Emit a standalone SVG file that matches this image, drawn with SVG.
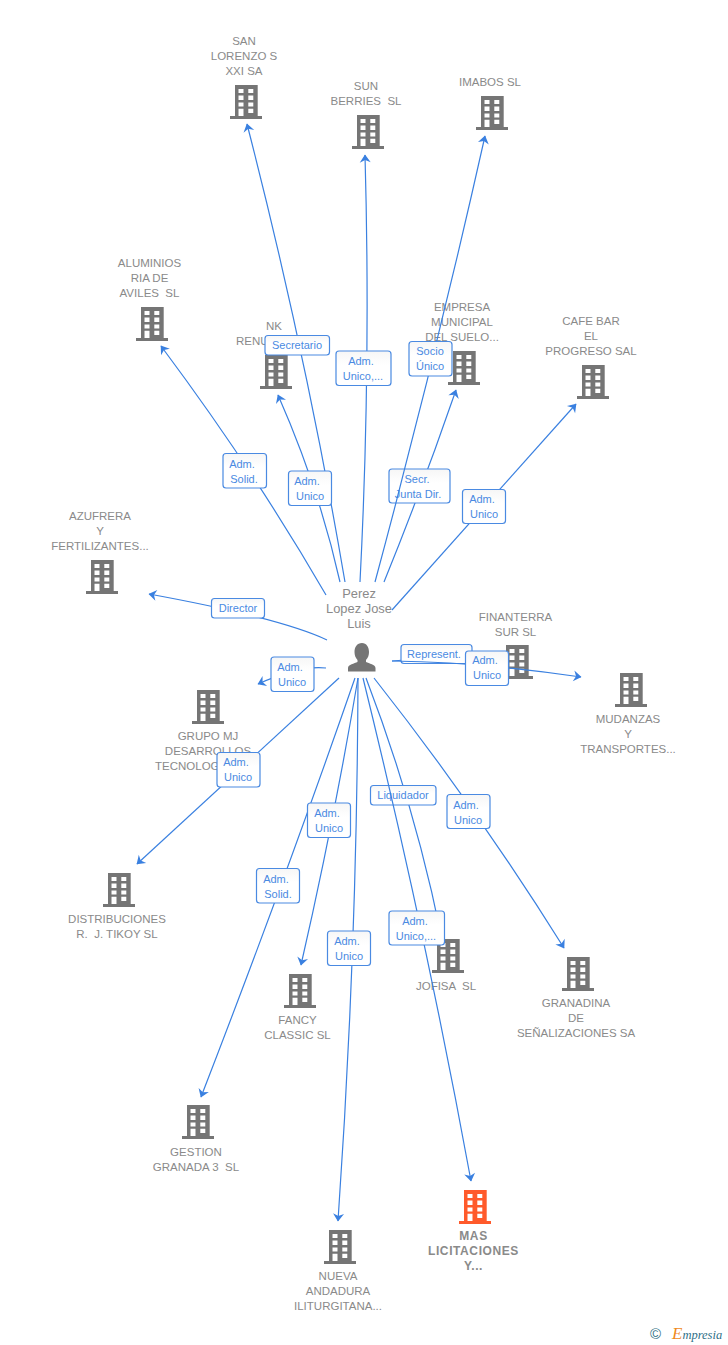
<svg xmlns="http://www.w3.org/2000/svg" width="728" height="1345" viewBox="0 0 728 1345">
<style>
text{font-family:"Liberation Sans",Arial,sans-serif;white-space:pre}
.n{font-size:11.5px;fill:#8a8a8a;text-anchor:middle}
.p{font-size:12.9px;fill:#8a8a8a;text-anchor:middle}
.m{font-size:12px;font-weight:bold;fill:#8a8a8a;text-anchor:middle;letter-spacing:.6px}
.l{fill:url(#lg);stroke:#4a8ae2;stroke-width:1.2}
.t{font-size:11px;fill:#4a8ae2;text-anchor:middle}
.c{fill:none;stroke:#3a80e0;stroke-width:1.2;marker-end:url(#ah)}
</style>
<defs>
<linearGradient id="lg" x1="0" y1="0" x2="0" y2="1"><stop offset="0" stop-color="#f6f6f6"/><stop offset=".4" stop-color="#fff"/><stop offset="1" stop-color="#fff"/></linearGradient>
<marker id="ah" markerUnits="userSpaceOnUse" markerWidth="10" markerHeight="12" viewBox="0 0 8 12" refX="7.5" refY="6" orient="auto"><path d="M0 .5L8 6L0 11.5L2.5 6z" fill="#3a80e0"/></marker>
<path id="b" fill-rule="evenodd" d="M5 0H27.700V31H32V34H0V31H5ZM8.500 4V8H13.500V4ZM18.300 4V8H23.300V4ZM8.500 10.500V15H13.500V10.500ZM18.300 10.500V15H23.300V10.500ZM8.500 17.500V21.500H13.500V17.500ZM18.300 17.500V21.500H23.300V17.500ZM8.500 23.700V31H13.500V23.700ZM18.300 23.700V28H23.300V23.700Z"/>
</defs>
<rect width="728" height="1345" fill="#fff"/>
<g id="nodes" fill="#757575">
<g id="n-san-lorenzo"><use href="#b" x="230" y="85"/><text class="n" x="244" y="45">SAN</text><text class="n" x="244" y="60">LORENZO S</text><text class="n" x="244" y="75">XXI SA</text></g>
<g id="n-sun-berries"><use href="#b" x="352" y="115"/><text class="n" x="366" y="90">SUN</text><text class="n" x="366" y="105">BERRIES  SL</text></g>
<g id="n-imabos"><use href="#b" x="476" y="96"/><text class="n" x="490" y="86">IMABOS SL</text></g>
<g id="n-aluminios"><use href="#b" x="136" y="307"/><text class="n" x="149.500" y="267">ALUMINIOS</text><text class="n" x="149.500" y="282">RIA DE</text><text class="n" x="149.500" y="297">AVILES  SL</text></g>
<g id="n-nk"><use href="#b" x="260" y="355"/><text class="n" x="274" y="330">NK</text><text class="n" x="236" y="345" style="text-anchor:start">RENU</text></g>
<g id="n-empresa"><use href="#b" x="448" y="351"/><text class="n" x="462" y="311">EMPRESA</text><text class="n" x="462" y="326">MUNICIPAL</text><text class="n" x="462" y="341">DEL SUELO...</text></g>
<g id="n-cafe-bar"><use href="#b" x="577" y="365"/><text class="n" x="591" y="325">CAFE BAR</text><text class="n" x="591" y="340">EL</text><text class="n" x="591" y="355">PROGRESO SAL</text></g>
<g id="n-azufrera"><use href="#b" x="86" y="560"/><text class="n" x="100" y="520">AZUFRERA</text><text class="n" x="100" y="535">Y</text><text class="n" x="100" y="550">FERTILIZANTES...</text></g>
<g id="n-finanterra"><use href="#b" x="501" y="645"/><text class="n" x="515.500" y="621">FINANTERRA</text><text class="n" x="515.500" y="636">SUR SL</text></g>
<g id="n-mudanzas"><use href="#b" x="615" y="673"/><text class="n" x="628" y="723">MUDANZAS</text><text class="n" x="628" y="738">Y</text><text class="n" x="628" y="753">TRANSPORTES...</text></g>
<g id="n-grupo-mj"><use href="#b" x="192" y="690"/><text class="n" x="208" y="740">GRUPO MJ</text><text class="n" x="208" y="755">DESARROLLOS</text><text class="n" x="155" y="770" style="text-anchor:start">TECNOLOG</text></g>
<g id="n-distribuciones"><use href="#b" x="103" y="873"/><text class="n" x="117" y="923">DISTRIBUCIONES</text><text class="n" x="117" y="938">R.  J. TIKOY SL</text></g>
<g id="n-fancy"><use href="#b" x="284" y="974"/><text class="n" x="297.500" y="1024">FANCY</text><text class="n" x="297.500" y="1039">CLASSIC SL</text></g>
<g id="n-jofisa"><use href="#b" x="432" y="939"/><text class="n" x="446" y="990">JOFISA  SL</text></g>
<g id="n-granadina"><use href="#b" x="562" y="957"/><text class="n" x="576" y="1007">GRANADINA</text><text class="n" x="576" y="1022">DE</text><text class="n" x="576" y="1037">SEÑALIZACIONES SA</text></g>
<g id="n-gestion"><use href="#b" x="182" y="1105"/><text class="n" x="196" y="1156">GESTION</text><text class="n" x="196" y="1171">GRANADA 3  SL</text></g>
<g id="n-nueva"><use href="#b" x="324" y="1230"/><text class="n" x="338" y="1280">NUEVA</text><text class="n" x="338" y="1295">ANDADURA</text><text class="n" x="338" y="1310">ILITURGITANA...</text></g>
<g id="n-mas"><use href="#b" x="459" y="1190" fill="#ff5a2b"/><text class="m" x="473.500" y="1240">MAS</text><text class="m" x="473.500" y="1255">LICITACIONES</text><text class="m" x="473.500" y="1270">Y...</text></g>
<g id="n-perez"><path d="M362 643c-5 0-7.500 4-7.500 9c0 3 1 6 3 8v2c-3 1.500-9.500 2.500-9.500 6v3.500h27.500v-3.500c0-3.500-6.500-4.500-9.500-6v-2c2-2 3-5 3-8c0-5-2.500-9-7-9z"/><text class="p" x="359" y="598">Perez</text><text class="p" x="359" y="613">Lopez Jose</text><text class="p" x="359" y="628">Luis</text></g>
</g>
<g id="connectors">
<path class="c" d="M384 582Q423 486 456 390"/>
<rect class="l" x="389" y="469" width="61" height="34" rx="3"/><text class="t" x="417" y="483">Secr.</text><text class="t" x="418" y="498">Junta Dir.</text>
<path class="c" d="M366 678Q415 806 441 935"/>
<rect class="l" x="370.500" y="785.500" width="65.500" height="19.500" rx="3"/><text class="t" x="403" y="799">Liquidador</text>
<path class="c" d="M345 582Q306 353 247 124"/>
<rect class="l" x="265" y="335.500" width="64.500" height="19.500" rx="3"/><text class="t" x="297" y="349">Secretario</text>
<path class="c" d="M360 582Q371 368 365 155"/>
<rect class="l" x="336" y="351" width="55" height="34.500" rx="3"/><text class="t" x="361" y="365">Adm.</text><text class="t" x="363" y="380">Unico,...</text>
<path class="c" d="M375 582Q435 359 485 136"/>
<rect class="l" x="409" y="341.500" width="43" height="34.500" rx="3"/><text class="t" x="430" y="355">Socio</text><text class="t" x="430" y="370">Único</text>
<path class="c" d="M392 610L576 404"/>
<rect class="l" x="462.500" y="489.500" width="43" height="34" rx="3"/><text class="t" x="482" y="503">Adm.</text><text class="t" x="484" y="518">Unico</text>
<path class="c" d="M340 582Q319 488 278 395"/>
<rect class="l" x="288.500" y="471" width="43" height="34.500" rx="3"/><text class="t" x="307" y="485">Adm.</text><text class="t" x="310" y="500">Unico</text>
<path class="c" d="M326 595Q255 472 161 346"/>
<rect class="l" x="223" y="453.500" width="43.500" height="34.500" rx="3"/><text class="t" x="242" y="468">Adm.</text><text class="t" x="244" y="483">Solid.</text>
<path class="c" d="M327 640Q280 618 149 594"/>
<rect class="l" x="211.500" y="598.500" width="53" height="19.500" rx="3"/><text class="t" x="238" y="612">Director</text>
<path class="c" d="M326 668Q300 665 258 684"/>
<rect class="l" x="271" y="657" width="43" height="34.500" rx="3"/><text class="t" x="290" y="671">Adm.</text><text class="t" x="292" y="686">Unico</text>
<path class="c" d="M392 661Q440 656 497 662"/>
<rect class="l" x="401" y="644.500" width="71" height="19" rx="3"/><text class="t" x="434" y="658">Represent.</text>
<path class="c" d="M392 661Q480 662 581 677"/>
<rect class="l" x="465.500" y="651" width="43" height="34.500" rx="3"/><text class="t" x="485" y="664">Adm.</text><text class="t" x="487" y="679">Unico</text>
<path class="c" d="M339 678L137 864"/>
<rect class="l" x="217" y="752.500" width="43" height="34.500" rx="3"/><text class="t" x="236" y="766">Adm.</text><text class="t" x="238" y="781">Unico</text>
<path class="c" d="M355 678Q285 880 201 1097"/>
<rect class="l" x="256.500" y="868.500" width="43" height="34.500" rx="3"/><text class="t" x="276" y="883">Adm.</text><text class="t" x="278" y="898">Solid.</text>
<path class="c" d="M358 678Q334 821 301 965"/>
<rect class="l" x="307.500" y="803" width="43" height="34.500" rx="3"/><text class="t" x="327" y="817">Adm.</text><text class="t" x="329" y="832">Unico</text>
<path class="c" d="M358 678Q357 950 338 1221"/>
<rect class="l" x="327.500" y="931" width="43" height="34.500" rx="3"/><text class="t" x="347" y="945">Adm.</text><text class="t" x="349" y="960">Unico</text>
<path class="c" d="M374 678Q478 810 564 948"/>
<rect class="l" x="447" y="794.500" width="43" height="34" rx="3"/><text class="t" x="466" y="809">Adm.</text><text class="t" x="468" y="824">Unico</text>
<path class="c" d="M363 678Q425 930 471 1181"/>
<rect class="l" x="389" y="911" width="55.500" height="34" rx="3"/><text class="t" x="415" y="925">Adm.</text><text class="t" x="416" y="940">Unico,...</text>
</g>
<g id="logo">
<text x="650" y="1339" style="font-size:15px;fill:#2f6f86">©</text>
<text x="672" y="1339" style="font-family:'Liberation Serif',serif;font-style:italic;font-size:12.500px;fill:#2f6f86"><tspan style="fill:#f08a1c;font-size:17px">E</tspan>mpresia</text>
</g>
</svg>
